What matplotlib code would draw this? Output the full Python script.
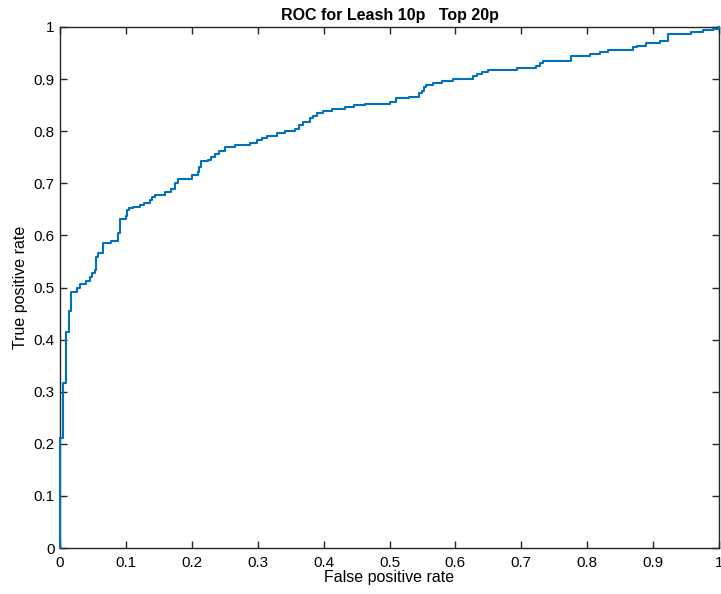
import matplotlib
matplotlib.use("Agg")
import matplotlib.pyplot as plt

# ROC staircase corners: at each fpr the tpr jumps to the given level
fpr = [0.000, 0.000, 0.004, 0.005, 0.009, 0.013, 0.017, 0.026, 0.031, 0.040,
       0.045, 0.048, 0.053, 0.055, 0.058, 0.065, 0.077, 0.088, 0.091, 0.100,
       0.102, 0.105, 0.111, 0.121, 0.127, 0.137, 0.139, 0.144, 0.160, 0.169,
       0.175, 0.179, 0.201, 0.210, 0.211, 0.214, 0.224, 0.229, 0.235, 0.242,
       0.250, 0.266, 0.288, 0.299, 0.306, 0.314, 0.329, 0.341, 0.357, 0.362,
       0.368, 0.380, 0.384, 0.390, 0.399, 0.412, 0.432, 0.446, 0.463, 0.500,
       0.510, 0.529, 0.545, 0.549, 0.552, 0.555, 0.566, 0.579, 0.596, 0.626,
       0.633, 0.640, 0.650, 0.694, 0.722, 0.728, 0.733, 0.776, 0.804, 0.820,
       0.832, 0.869, 0.876, 0.889, 0.911, 0.923, 0.958, 0.975, 0.991, 1.000]
tpr = [0.000, 0.211, 0.228, 0.317, 0.414, 0.455, 0.492, 0.500, 0.507, 0.512,
       0.520, 0.528, 0.533, 0.558, 0.566, 0.585, 0.589, 0.604, 0.632, 0.637,
       0.649, 0.652, 0.655, 0.658, 0.663, 0.667, 0.674, 0.678, 0.684, 0.690,
       0.700, 0.708, 0.716, 0.722, 0.732, 0.742, 0.745, 0.750, 0.757, 0.762,
       0.769, 0.774, 0.777, 0.783, 0.787, 0.791, 0.796, 0.800, 0.804, 0.812,
       0.818, 0.825, 0.829, 0.834, 0.839, 0.842, 0.847, 0.850, 0.853, 0.857,
       0.863, 0.866, 0.873, 0.878, 0.884, 0.889, 0.893, 0.897, 0.900, 0.905,
       0.910, 0.914, 0.917, 0.922, 0.926, 0.931, 0.935, 0.944, 0.948, 0.952,
       0.956, 0.961, 0.964, 0.969, 0.974, 0.986, 0.991, 0.994, 0.997, 1.000]

ticks = [0, 0.1, 0.2, 0.3, 0.4, 0.5, 0.6, 0.7, 0.8, 0.9, 1]
tick_labels = ["0", "0.1", "0.2", "0.3", "0.4", "0.5", "0.6", "0.7", "0.8", "0.9", "1"]

title = "ROC for Leash 10p   Top 20p"
xlabel = "False positive rate"
ylabel = "True positive rate"

plt.rcParams['font.family'] = ['Liberation Sans', 'DejaVu Sans']

fig = plt.figure(figsize=(7.21, 5.94), dpi=100)
ax = fig.add_axes([60/721, 46/594, 659/721, 521/594])

ax.plot(fpr, tpr, drawstyle='steps-post', color='#0072BD', linewidth=1.5,
        zorder=3, clip_on=False)

ax.set_xlim(0, 1)
ax.set_ylim(0, 1)
ax.set_xticks(ticks)
ax.set_xticklabels(tick_labels)
ax.set_yticks(ticks)
ax.set_yticklabels(tick_labels)

dark = '#262626'
for s in ax.spines.values():
    s.set_color(dark)
    s.set_linewidth(1.0)
ax.tick_params(direction='in', length=5, width=1.0, color=dark,
               top=True, right=True, labelsize=11, labelcolor='black')
ax.tick_params(axis='x', pad=6)
ax.tick_params(axis='y', pad=4)

ax.set_xlabel(xlabel, fontsize=11.5, labelpad=0)
ax.set_ylabel(ylabel, fontsize=11.5, labelpad=4)
ax.set_title(title, fontsize=11.5, fontweight='bold', pad=5)

fig.savefig("out.png", dpi=100)
